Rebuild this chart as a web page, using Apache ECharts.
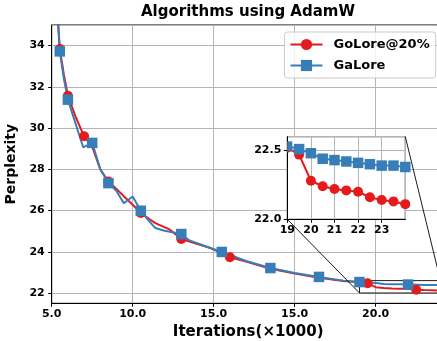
<!DOCTYPE html>
<html><head><meta charset="utf-8">
<script src="https://cdn.jsdelivr.net/npm/echarts@6/dist/echarts.min.js"></script>
<style>html,body{margin:0;padding:0;background:#fff}#c{width:437px;height:341px}</style>
</head><body><div id="c"></div>
<script>
const titleText = 'Algorithms using AdamW';
const xName = 'Iterations(×1000)';
const yName = 'Perplexity';
const seriesNames = ['GoLore@20%', 'GaLore'];
const xTickValues = [0, 5, 10, 15, 20];
const xTickLabels = ['5.0', '10.0', '15.0', '15.0', '20.0'];

const goloreX = [0.3, 0.5, 0.75, 1.0, 1.5, 2.0, 2.5, 3.0, 3.5, 4.0, 4.5, 5.0, 5.5, 6.0, 6.4, 7.3, 8.0, 8.5, 9.0, 9.8, 10.5, 11.0, 12.0, 13.5, 15.0, 16.5, 18.0, 19.0, 19.5, 20.0, 20.5, 21.0, 21.5, 22.0, 22.5, 23.0, 23.5, 24.0];
const goloreY = [36.4, 33.84, 32.6, 31.57, 30.5, 29.6, 29.1, 28.0, 27.41, 27.05, 26.66, 26.28, 25.88, 25.6, 25.39, 25.07, 24.62, 24.5, 24.38, 24.18, 23.94, 23.73, 23.52, 23.18, 22.95, 22.74, 22.58, 22.52, 22.47, 22.28, 22.24, 22.22, 22.21, 22.20, 22.16, 22.14, 22.13, 22.11];
const galoreX = [0.3, 0.5, 0.75, 1.0, 1.5, 1.95, 2.5, 3.0, 3.5, 4.0, 4.45, 5.0, 5.5, 6.0, 6.4, 6.9, 8.0, 8.5, 9.8, 10.5, 12.0, 13.5, 15.0, 16.5, 18.0, 19.0, 19.5, 20.0, 20.5, 21.0, 21.5, 22.0, 22.5, 23.0, 23.5, 24.0];
const galoreY = [36.2, 33.72, 32.4, 31.38, 30.15, 29.06, 29.28, 28.0, 27.33, 26.95, 26.35, 26.68, 25.99, 25.5, 25.15, 25.03, 24.86, 24.55, 24.18, 23.99, 23.55, 23.21, 22.97, 22.78, 22.6, 22.53, 22.51, 22.48, 22.44, 22.43, 22.42, 22.41, 22.40, 22.39, 22.39, 22.38];
const goloreMarkX = [0.5, 1.0, 2.0, 3.5, 5.5, 8.0, 11.0, 19.5, 22.5];
const galoreMarkX = [0.5, 1.0, 2.5, 3.5, 5.5, 8.0, 10.5, 13.5, 16.5, 19.0, 22.0];
const zoomX = [19, 24];
const zoomY = [22.0, 22.6];

const RED = '#e41a1c', BLUE = '#377eb8';
const FONT = 'DejaVu Sans';
const tickFont = {fontFamily: FONT, fontWeight: 'bold', fontSize: 11, color: '#000'};

function mainData(xs, ys, marks) {
  return xs.map((x, i) => marks.includes(x) ? {value: [x, ys[i]]} : {value: [x, ys[i]], symbol: 'none'});
}
function insetData(xs, ys, halfSym) {
  const out = [];
  xs.forEach((x, i) => {
    if (x < zoomX[0]) return;
    if (x === zoomX[0]) out.push({value: [x, ys[i]], symbol: halfSym, symbolSize: [5, 10], symbolOffset: [2.5, 0]});
    else out.push({value: [x, ys[i]]});
  });
  return out;
}
const rectData = [[zoomX[0], zoomY[0]], [zoomX[1], zoomY[0]], [zoomX[1], zoomY[1]], [zoomX[0], zoomY[1]], [zoomX[0], zoomY[0]]];

const chart = echarts.init(document.getElementById('c'), null, {renderer: 'canvas'});
const option = {
  animation: false,
  backgroundColor: '#fff',
  title: {
    text: titleText, left: 248, top: 5, padding: 0, textAlign: 'center',
    textStyle: {fontFamily: FONT, fontWeight: 'bold', fontSize: 15, color: '#000'}
  },
  legend: {
    data: seriesNames, orient: 'vertical', left: 284.5, top: 32,
    itemWidth: 32, itemHeight: 14, itemGap: 8, padding: [6, 6, 6, 5],
    backgroundColor: 'rgba(255,255,255,0.8)', borderColor: '#cccccc', borderWidth: 1, borderRadius: 3,
    selectedMode: false, z: 6,
    textStyle: {fontFamily: FONT, fontWeight: 'bold', fontSize: 13, color: '#000', padding: [0, 0, 0, 6]}
  },
  grid: [
    {left: 51.7, top: 25, width: 393, height: 278.3, show: true, borderColor: '#000', borderWidth: 1,
     backgroundColor: 'transparent', containLabel: false, outerBoundsMode: 'none'},
    {left: 287.3, top: 136.7, width: 118, height: 82.6, show: true, borderColor: '#000', borderWidth: 1,
     backgroundColor: '#fff', z: 3, containLabel: false, outerBoundsMode: 'none'}
  ],
  xAxis: [
    {type: 'value', gridIndex: 0, min: 0, max: 24.26, interval: 5,
     name: xName, nameLocation: 'middle', nameGap: 21,
     nameTextStyle: {fontFamily: FONT, fontWeight: 'bold', fontSize: 15, color: '#000'},
     axisLine: {lineStyle: {color: '#000', width: 1}},
     axisTick: {show: true, inside: false, length: 3.5, lineStyle: {color: '#000'}},
     axisLabel: Object.assign({margin: 5, showMaxLabel: false,
       formatter: v => { const k = xTickValues.indexOf(v); return k >= 0 ? xTickLabels[k] : ''; }}, tickFont),
     splitLine: {show: true, lineStyle: {color: '#b5b5b5', width: 1}}},
    {type: 'value', gridIndex: 1, min: zoomX[0], max: zoomX[1], interval: 1, z: 4,
     axisLine: {lineStyle: {color: '#000', width: 1}},
     axisTick: {show: true, inside: false, length: 3.5, lineStyle: {color: '#000'}},
     axisLabel: Object.assign({margin: 5, showMaxLabel: false, formatter: v => String(v)}, tickFont),
     splitLine: {show: true, lineStyle: {color: '#b5b5b5', width: 1}}}
  ],
  yAxis: [
    {type: 'value', gridIndex: 0, min: 21.5, max: 35, splitNumber: 7,
     name: yName, nameLocation: 'middle', nameGap: 27,
     nameTextStyle: {fontFamily: FONT, fontWeight: 'bold', fontSize: 14, color: '#000'},
     axisLine: {lineStyle: {color: '#000', width: 1}},
     axisTick: {show: true, inside: false, length: 3.5, lineStyle: {color: '#000'}},
     axisLabel: Object.assign({margin: 7, showMinLabel: false, showMaxLabel: false}, tickFont),
     splitLine: {show: true, lineStyle: {color: '#b5b5b5', width: 1}}},
    {type: 'value', gridIndex: 1, min: zoomY[0], max: zoomY[1], interval: 0.5, z: 4,
     axisLine: {lineStyle: {color: '#000', width: 1}},
     axisTick: {show: true, inside: false, length: 3.5, lineStyle: {color: '#000'}},
     axisLabel: Object.assign({margin: 6, showMaxLabel: false, formatter: v => v.toFixed(1)}, tickFont),
     splitLine: {show: true, lineStyle: {color: '#b5b5b5', width: 1}}}
  ],
  series: [
    {name: seriesNames[0], type: 'line', xAxisIndex: 0, yAxisIndex: 0, clip: true,
     data: mainData(goloreX, goloreY, goloreMarkX), symbol: 'circle', symbolSize: 10,
     showSymbol: true, showAllSymbol: true, color: RED,
     lineStyle: {color: RED, width: 2}, itemStyle: {color: RED}},
    {name: seriesNames[1], type: 'line', xAxisIndex: 0, yAxisIndex: 0, clip: true,
     data: mainData(galoreX, galoreY, galoreMarkX), symbol: 'rect', symbolSize: 10.5,
     showSymbol: true, showAllSymbol: true, color: BLUE,
     lineStyle: {color: BLUE, width: 2}, itemStyle: {color: BLUE}},
    {name: 'zoomRect', type: 'line', xAxisIndex: 0, yAxisIndex: 0, clip: false,
     data: rectData, symbol: 'none', silent: true, lineStyle: {color: '#000', width: 0.9}, z: 3},
    {name: 'insetGo', type: 'line', xAxisIndex: 1, yAxisIndex: 1, clip: true, z: 5,
     data: insetData(goloreX, goloreY, 'path://M0,0 A5,5 0 0,1 0,10 Z'), symbol: 'circle', symbolSize: 10,
     showSymbol: true, showAllSymbol: true, color: RED,
     lineStyle: {color: RED, width: 2}, itemStyle: {color: RED}},
    {name: 'insetGa', type: 'line', xAxisIndex: 1, yAxisIndex: 1, clip: true, z: 5,
     data: insetData(galoreX, galoreY, 'rect'), symbol: 'rect', symbolSize: 10.5,
     showSymbol: true, showAllSymbol: true, color: BLUE,
     lineStyle: {color: BLUE, width: 2}, itemStyle: {color: BLUE}}
  ]
};
chart.setOption(option);

const inBL = chart.convertToPixel({gridIndex: 1}, [zoomX[0], zoomY[0]]);
const inTR = chart.convertToPixel({gridIndex: 1}, [zoomX[1], zoomY[1]]);
const rBL = chart.convertToPixel({gridIndex: 0}, [zoomX[0], zoomY[0]]);
const rTR = chart.convertToPixel({gridIndex: 0}, [zoomX[1], zoomY[1]]);
chart.setOption({graphic: [
  {type: 'line', z: 10, silent: true, shape: {x1: inBL[0], y1: inBL[1], x2: rBL[0], y2: rBL[1]}, style: {stroke: '#000', lineWidth: 0.9}},
  {type: 'line', z: 10, silent: true, shape: {x1: inTR[0], y1: inTR[1], x2: rTR[0], y2: rTR[1]}, style: {stroke: '#000', lineWidth: 0.9}}
]});
</script></body></html>
